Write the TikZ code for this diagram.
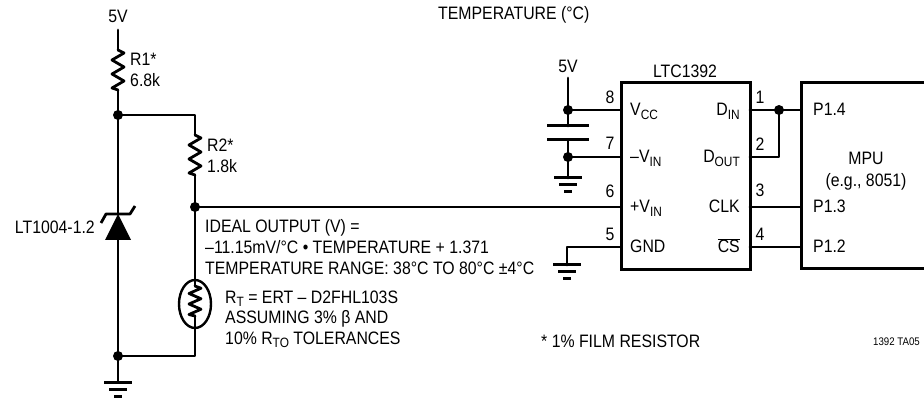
\documentclass[tikz,border=0pt]{standalone}
\usepackage{fontspec}
\setmainfont[FakeStretch=0.88]{Liberation Sans}
\newcommand\sbs[1]{\raisebox{-0.35ex}{\fontsize{13.5}{13.5}\selectfont #1}}
\begin{document}
\begin{tikzpicture}[x=1pt,y=-1pt,
  wire/.style={line width=2.8pt,line cap=round,line join=round},
  boxline/.style={line width=3pt,line join=miter},
  dot/.style={circle,fill=black,inner sep=0pt,minimum size=10pt},
  lbl/.style={inner sep=0pt,font=\fontsize{18}{18}\selectfont},
  pinno/.style={lbl,anchor=base},
  resz/.pic={\draw[wire] (0,0) -- (6,3) -- (-6,10) -- (6,17) -- (-6,24) -- (6,31) -- (-6,38) -- (0,40);},
  gndsym/.pic={\draw[line width=3pt] (-14,0) -- (14,0) (-9,7) -- (9,7) (-4,14) -- (4,14);}
]
\useasboundingbox (0,0) rectangle (924,398);
% ---- coordinates
\coordinate (v5top) at (118,30);
\coordinate (r1t) at (118,50);
\coordinate (r1b) at (118,90);
\coordinate (jA) at (118,115);
\coordinate (jAr) at (195,115);
\coordinate (r2t) at (195,135);
\coordinate (r2b) at (195,175);
\coordinate (jB) at (195,207);
\coordinate (zbar) at (118,214);
\coordinate (zbase) at (118,240);
\coordinate (jC) at (118,356);
\coordinate (jCr) at (195,356);
\coordinate (thT) at (195,286);
\coordinate (thB) at (195,316);
\coordinate (gL) at (118,382);
\coordinate (p8) at (621,110);
\coordinate (p7) at (621,157);
\coordinate (p6) at (621,207);
\coordinate (p5) at (621,247);
\coordinate (p1) at (750,110);
\coordinate (p2) at (750,157);
\coordinate (p3) at (750,207);
\coordinate (p4) at (750,247);
\coordinate (c5) at (568,78);
\coordinate (cj1) at (568,110);
\coordinate (pl1) at (568,126);
\coordinate (pl2) at (568,140);
\coordinate (cj2) at (568,157);
\coordinate (cg) at (568,178);
\coordinate (g5a) at (567,247);
\coordinate (g5) at (567,265);
\coordinate (dj) at (779,110);
\coordinate (dj2) at (779,157);
\coordinate (m14) at (801,110);
\coordinate (m13) at (801,207);
\coordinate (m12) at (801,247);
% ---- left network
\draw[wire] (v5top) -- (r1t);
\pic at (r1t) {resz};
\draw[wire] (r1b) -- (jA) -- (zbar);
\draw[wire] (jA) -- (jAr) -- (r2t);
\pic at (r2t) {resz};
\draw[wire] (r2b) -- (jB) -- (thT);
\pic[yscale=0.75] at (thT) {resz};
\draw[wire] (thB) -- (jCr) -- (jC);
\draw[line width=2.4pt] (195,304) ellipse [x radius=16, y radius=24];
% zener
\fill (zbar) -- (131,240) -- (105,240) -- cycle;
\draw[wire,line cap=butt] (101,223) -- (106,214) -- (130,214) -- (135,206);
\draw[wire] (zbase) -- (jC) -- (gL);
\pic at (gL) {gndsym};
\node[dot] (dA) at (jA) {};
\node[dot] (dB) at (jB) {};
\node[dot] (dC) at (jC) {};
% ---- output wire
\draw[wire] (jB) -- (p6);
% ---- chip
\draw[boxline] (621,83) rectangle (750,270);
\node[lbl,anchor=base] (chipname) at (685,78) {LTC1392};
% cap network
\draw[wire] (c5) -- (cj1) -- (pl1);
\draw[line width=3pt] (547,126) -- (589,126) (547,140) -- (589,140);
\draw[wire] (pl2) -- (cj2) -- (cg);
\pic at (cg) {gndsym};
\draw[wire] (cj1) -- (p8);
\draw[wire] (cj2) -- (p7);
\node[dot] (dcj1) at (cj1) {};
\node[dot] (dcj2) at (cj2) {};
\node[lbl,anchor=base] (v5b) at (568,73) {5V};
% gnd pin
\draw[wire] (p5) -- (g5a) -- (g5);
\pic at (g5) {gndsym};
% right pins
\draw[wire] (p1) -- (m14);
\draw[wire] (p2) -- (dj2) -- (dj);
\draw[wire] (p3) -- (m13);
\draw[wire] (p4) -- (m12);
\node[dot] (ddj) at (dj) {};
% MPU
\draw[boxline] (924,83) -- (801,83) -- (801,269) -- (924,269);
% pin numbers
\node[pinno] (n8) at (610,104) {8};
\node[pinno] (n7) at (610,150) {7};
\node[pinno] (n6) at (610,198) {6};
\node[pinno] (n5) at (610,241) {5};
\node[pinno] (n1) at (760,104) {1};
\node[pinno] (n2) at (760,151) {2};
\node[pinno] (n3) at (760,197) {3};
\node[pinno] (n4) at (760,241) {4};
% chip inner labels
\node[lbl,anchor=base west] (lvcc) at (630,116) {V\sbs{CC}};
\node[lbl,anchor=base west] (lmv) at (630,163) {–V\sbs{IN}};
\node[lbl,anchor=base west] (lpv) at (630,213) {+V\sbs{IN}};
\node[lbl,anchor=base west] (lgnd) at (630,253) {GND};
\node[lbl,anchor=base east] (ldin) at (740,116) {D\sbs{IN}};
\node[lbl,anchor=base east] (ldout) at (740,163) {D\sbs{OUT}};
\node[lbl,anchor=base east] (lclk) at (740,213) {CLK};
\node[lbl,anchor=base east] (lcs) at (740,253) {$\overline{\hbox{CS}}$};
% MPU labels
\node[lbl,anchor=base west] (lp14) at (813,116) {P1.4};
\node[lbl,anchor=base west] (lp13) at (813,213) {P1.3};
\node[lbl,anchor=base west] (lp12) at (813,253) {P1.2};
\node[lbl,anchor=base] (lmpu) at (866,165) {MPU};
\node[lbl,anchor=base] (leg) at (866,187) {(e.g., 8051)};
% left labels
\node[lbl,anchor=base] (l5v) at (118,23) {5V};
\node[lbl,anchor=base west] (lr1) at (130,66) {R1*};
\node[lbl,anchor=base west] (lr1v) at (130,87) {6.8k};
\node[lbl,anchor=base west] (lr2) at (207,152) {R2*};
\node[lbl,anchor=base west] (lr2v) at (207,173) {1.8k};
\node[lbl,anchor=base east] (llt) at (95,234) {LT1004-1.2};
% text block
\node[lbl,anchor=base west] (t1) at (205,233) {IDEAL OUTPUT (V) =};
\node[lbl,anchor=base west] (t2) at (205,254) {–11.15mV/°C • TEMPERATURE + 1.371};
\node[lbl,anchor=base west] (t3) at (205,275) {TEMPERATURE RANGE: 38°C TO 80°C ±4°C};
\node[lbl,anchor=base west] (t4) at (225,303) {R\sbs{T} = ERT – D2FHL103S};
\node[lbl,anchor=base west] (t5) at (225,323) {ASSUMING 3\% β AND};
\node[lbl,anchor=base west] (t6) at (225,344) {10\% R\sbs{TO} TOLERANCES};
\node[lbl,anchor=base west] (tfilm) at (541,347) {* 1\% FILM RESISTOR};
\node[inner sep=0pt,anchor=base east,font=\fontsize{11}{11}\selectfont] (tta) at (920,345) {1392 TA05};
\node[lbl,anchor=base west] (ttitle) at (438,20) {TEMPERATURE (°C)};
\end{tikzpicture}
\end{document}
